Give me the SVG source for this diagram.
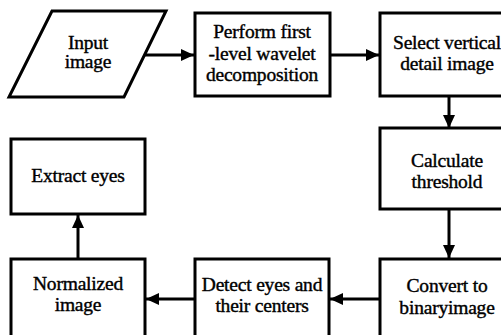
<svg xmlns="http://www.w3.org/2000/svg" width="501" height="335" viewBox="0 0 501 335">
<style>
.n{fill:#fff;stroke:#000;stroke-width:3}
.t{font-size:19.5px;letter-spacing:-0.2px;fill:#000;stroke:#000;stroke-width:0.4px;text-anchor:middle}
.c{fill:none;stroke:#000;stroke-width:3}
</style>
<defs>
<marker id="ah" markerUnits="userSpaceOnUse" markerWidth="14" markerHeight="12" refX="13" refY="6" orient="auto">
<path d="M0,0 L13,6 L0,12 Z" fill="#000"/>
</marker>
</defs>
<rect width="501" height="335" fill="#fff"/>
<g id="connectors">
<line class="c" x1="145" y1="55" x2="194" y2="55" marker-end="url(#ah)"/>
<line class="c" x1="330" y1="55" x2="379" y2="55" marker-end="url(#ah)"/>
<line class="c" x1="449" y1="96" x2="449" y2="128" marker-end="url(#ah)"/>
<line class="c" x1="449" y1="209" x2="449" y2="258" marker-end="url(#ah)"/>
<line class="c" x1="380" y1="299" x2="330" y2="299" marker-end="url(#ah)"/>
<line class="c" x1="195" y1="299" x2="146" y2="299" marker-end="url(#ah)"/>
<line class="c" x1="78" y1="259" x2="78" y2="215" marker-end="url(#ah)"/>
</g>
<g font-family="Liberation Serif">
<g id="input">
<polygon class="n" points="52,11 166,11 124,97 9,97"/>
<text class="t" x="88" y="49">Input</text>
<text class="t" x="88" y="68">image</text>
</g>
<g id="wavelet">
<rect class="n" x="195" y="13" width="135" height="83"/>
<text class="t" x="262" y="38">Perform first</text>
<text class="t" x="262" y="60">-level wavelet</text>
<text class="t" x="262" y="81">decomposition</text>
</g>
<g id="select">
<rect class="n" x="380" y="13" width="134" height="83"/>
<text class="t" x="447" y="49">Select vertical</text>
<text class="t" x="447" y="70">detail image</text>
</g>
<g id="threshold">
<rect class="n" x="380" y="128" width="134" height="81"/>
<text class="t" x="447" y="167">Calculate</text>
<text class="t" x="447" y="188">threshold</text>
</g>
<g id="binary">
<rect class="n" x="380" y="259" width="134" height="90"/>
<text class="t" x="447" y="292">Convert to</text>
<text class="t" x="447" y="314">binaryimage</text>
</g>
<g id="detect">
<rect class="n" x="195" y="259" width="134" height="90"/>
<text class="t" x="262" y="291">Detect eyes and</text>
<text class="t" x="262" y="312">their centers</text>
</g>
<g id="normalized">
<rect class="n" x="11" y="259" width="134" height="90"/>
<text class="t" x="78" y="290">Normalized</text>
<text class="t" x="78" y="311">image</text>
</g>
<g id="extract">
<rect class="n" x="11" y="139" width="134" height="75"/>
<text class="t" x="78" y="182">Extract eyes</text>
</g>
</g>
</svg>
